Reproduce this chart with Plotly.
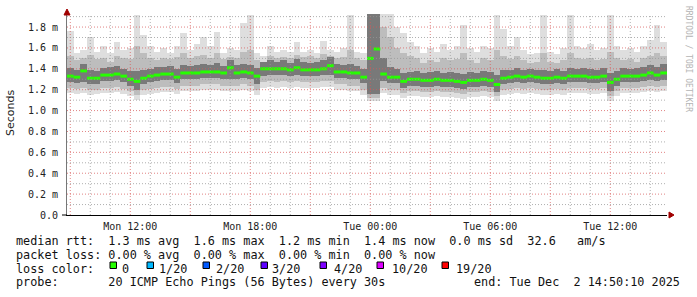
import pandas as pd
import plotly.graph_objects as go

# ---------------- data ----------------
START = "2025-12-01 08:50:10"
END = "2025-12-02 14:50:10"
STEP_MIN = 20

median = [1.33,1.32,1.38,1.31,1.31,1.34,1.34,1.35,1.33,1.30,
          1.28,1.31,1.33,1.34,1.35,1.35,1.32,1.36,1.36,1.36,
          1.37,1.37,1.37,1.36,1.41,1.36,1.37,1.36,1.33,1.40,
          1.40,1.40,1.40,1.39,1.41,1.39,1.39,1.39,1.40,1.43,
          1.37,1.37,1.36,1.36,1.32,1.50,1.59,1.35,1.32,1.32,
          1.28,1.30,1.30,1.29,1.29,1.30,1.29,1.29,1.28,1.27,
          1.29,1.29,1.30,1.29,1.25,1.31,1.32,1.33,1.32,1.33,
          1.32,1.31,1.31,1.32,1.31,1.33,1.33,1.33,1.32,1.32,
          1.33,1.27,1.30,1.33,1.33,1.33,1.34,1.36,1.34,1.36]

smoke_max = [1.76,1.55,1.58,1.70,1.56,1.62,1.55,1.66,1.58,1.60,
             1.92,1.72,1.62,1.56,1.60,1.55,1.62,1.74,1.58,1.64,
             1.70,1.62,1.75,1.55,1.60,1.58,1.84,1.92,1.55,1.52,
             1.62,1.56,1.58,1.56,1.66,1.56,1.58,1.55,1.67,1.58,
             1.56,1.60,1.92,1.56,1.55,1.95,1.95,1.95,1.95,1.80,
             1.74,1.66,1.62,1.55,1.60,1.56,1.64,1.58,1.62,1.82,
             1.60,1.56,1.62,1.60,1.92,1.78,1.62,1.70,1.58,1.54,
             1.55,1.92,1.56,1.54,1.60,1.92,1.62,1.60,1.64,1.58,
             1.60,1.92,1.62,1.58,1.60,1.56,1.62,1.68,1.82,1.66]

smoke_hi2 = [1.52,1.48,1.50,1.53,1.49,1.50,1.47,1.52,1.50,1.49,
             1.62,1.55,1.50,1.48,1.50,1.49,1.51,1.55,1.50,1.52,
             1.53,1.50,1.55,1.49,1.51,1.50,1.56,1.58,1.48,1.47,
             1.52,1.50,1.51,1.50,1.53,1.51,1.52,1.50,1.54,1.52,
             1.50,1.51,1.58,1.50,1.48,1.95,1.95,1.80,1.70,1.60,
             1.55,1.52,1.50,1.46,1.48,1.47,1.50,1.48,1.49,1.55,
             1.48,1.46,1.50,1.48,1.58,1.52,1.49,1.52,1.48,1.46,
             1.47,1.55,1.47,1.46,1.48,1.55,1.50,1.49,1.50,1.48,
             1.49,1.56,1.50,1.48,1.49,1.47,1.50,1.52,1.55,1.52]

smoke_hi1 = [1.41,1.39,1.45,1.39,1.38,1.41,1.42,1.43,1.40,1.38,
             1.38,1.39,1.40,1.42,1.42,1.43,1.40,1.44,1.43,1.44,
             1.45,1.44,1.46,1.43,1.48,1.44,1.45,1.44,1.41,1.47,
             1.48,1.47,1.48,1.46,1.49,1.47,1.46,1.47,1.48,1.51,
             1.45,1.44,1.45,1.43,1.40,1.95,1.95,1.50,1.42,1.40,
             1.36,1.37,1.38,1.36,1.37,1.38,1.36,1.37,1.36,1.35,
             1.37,1.36,1.38,1.37,1.34,1.39,1.39,1.41,1.39,1.40,
             1.39,1.39,1.38,1.40,1.38,1.41,1.40,1.41,1.40,1.39,
             1.41,1.36,1.38,1.41,1.40,1.41,1.42,1.44,1.42,1.45]

smoke_lo1 = [1.27,1.26,1.27,1.25,1.25,1.28,1.28,1.29,1.27,1.24,
             1.20,1.25,1.27,1.28,1.29,1.29,1.26,1.30,1.30,1.30,
             1.31,1.31,1.31,1.30,1.30,1.30,1.31,1.30,1.25,1.33,
             1.34,1.34,1.34,1.33,1.34,1.33,1.33,1.33,1.34,1.34,
             1.31,1.31,1.30,1.30,1.26,1.16,1.16,1.28,1.26,1.26,
             1.22,1.24,1.24,1.23,1.23,1.24,1.23,1.23,1.22,1.21,
             1.23,1.23,1.24,1.23,1.18,1.25,1.26,1.27,1.26,1.27,
             1.26,1.25,1.25,1.26,1.25,1.27,1.27,1.27,1.26,1.26,
             1.27,1.19,1.24,1.27,1.27,1.27,1.28,1.29,1.28,1.29]

smoke_lo2 = [1.22,1.21,1.22,1.20,1.20,1.22,1.22,1.23,1.21,1.19,
             1.15,1.20,1.21,1.22,1.23,1.23,1.21,1.24,1.24,1.24,
             1.25,1.25,1.25,1.24,1.24,1.24,1.25,1.24,1.20,1.27,
             1.28,1.27,1.28,1.27,1.28,1.27,1.27,1.27,1.28,1.28,
             1.25,1.25,1.24,1.24,1.20,1.12,1.12,1.22,1.20,1.20,
             1.17,1.19,1.19,1.18,1.18,1.19,1.18,1.18,1.17,1.16,
             1.18,1.18,1.19,1.18,1.14,1.20,1.21,1.22,1.21,1.22,
             1.21,1.20,1.20,1.21,1.20,1.22,1.22,1.22,1.21,1.21,
             1.22,1.14,1.19,1.22,1.22,1.22,1.23,1.24,1.23,1.24]

smoke_min = [1.17,1.16,1.17,1.15,1.16,1.17,1.17,1.18,1.16,1.14,
             1.10,1.15,1.16,1.17,1.18,1.18,1.16,1.19,1.19,1.19,
             1.20,1.20,1.20,1.19,1.19,1.19,1.20,1.19,1.15,1.22,
             1.23,1.22,1.23,1.22,1.23,1.22,1.22,1.22,1.23,1.23,
             1.20,1.20,1.19,1.19,1.15,1.09,1.09,1.17,1.15,1.15,
             1.12,1.14,1.14,1.13,1.13,1.14,1.13,1.13,1.12,1.11,
             1.13,1.13,1.14,1.13,1.09,1.15,1.16,1.17,1.16,1.17,
             1.16,1.15,1.15,1.16,1.15,1.17,1.17,1.17,1.16,1.16,
             1.17,1.09,1.14,1.17,1.17,1.17,1.18,1.19,1.18,1.19]

x_tick_times = ["2025-12-01 09:00", "2025-12-01 12:00", "2025-12-01 15:00",
                "2025-12-01 18:00", "2025-12-01 21:00", "2025-12-02 00:00",
                "2025-12-02 03:00", "2025-12-02 06:00", "2025-12-02 09:00",
                "2025-12-02 12:00"]
x_tick_text = ["", "Mon 12:00", "", "Mon 18:00", "", "Tue 00:00", "",
               "Tue 06:00", "", "Tue 12:00"]
y_tick_vals = [0.0, 0.2, 0.4, 0.6, 0.8, 1.0, 1.2, 1.4, 1.6, 1.8]
y_tick_text = ["0.0", "0.2 m", "0.4 m", "0.6 m", "0.8 m", "1.0 m",
               "1.2 m", "1.4 m", "1.6 m", "1.8 m"]
y_minor_vals = [0.1, 0.3, 0.5, 0.7, 0.9, 1.1, 1.3, 1.5, 1.7, 1.9]

loss_labels = ["0", "1/20", "2/20", "3/20", "4/20", "10/20", "19/20"]
loss_colors = ["#26ff00", "#00b8ff", "#0059ff", "#5e00ff", "#7e00ff",
               "#dd00ff", "#ff0000"]

stats_line1 = "median rtt:  1.3 ms avg  1.6 ms max  1.2 ms min  1.4 ms now  0.0 ms sd  32.6   am/s"
stats_line2 = "packet loss: 0.00 % avg  0.00 % max  0.00 % min  0.00 % now"
probe_text = "probe:       20 ICMP Echo Pings (56 Bytes) every 30s"
end_text = "end: Tue Dec  2 14:50:10 2025"

# ---------------- layout geometry ----------------
W, H = 697, 297
PL, PR, PT, PB = 67, 30, 14, 82
PW = W - PL - PR
PHh = H - PT - PB
YMAX = 1.925


def px(xp):
    return (xp - PL) / PW


def py(yp):
    return (H - PB - yp) / PHh


step = pd.Timedelta(minutes=STEP_MIN)
times = [pd.Timestamp(START) + i * step for i in range(len(median))]
width_ms = step.total_seconds() * 1000

fig = go.Figure()

layers = [
    (smoke_min, smoke_max, "rgba(0,0,0,0.13)"),
    (smoke_lo2, smoke_hi2, "rgba(0,0,0,0.15)"),
    (smoke_lo1, smoke_hi1, "rgba(0,0,0,0.36)"),
]
for lo, hi, col in layers:
    fig.add_trace(go.Bar(
        x=times, y=[h - l for l, h in zip(lo, hi)], base=lo,
        width=width_ms, offset=0, marker=dict(color=col, line=dict(width=0)),
        showlegend=False, hoverinfo="skip"))

# median as horizontal segments
seg_x, seg_y = [], []
for t, m in zip(times, median):
    seg_x += [t, t + step, None]
    seg_y += [m, m, None]
fig.add_trace(go.Scatter(x=seg_x, y=seg_y, mode="lines",
                         line=dict(color=loss_colors[0], width=3),
                         showlegend=False, hoverinfo="skip"))

mono = "DejaVu Sans Mono"

fig.update_layout(
    width=W, height=H,
    margin=dict(l=PL, r=PR, t=PT, b=PB),
    paper_bgcolor="white", plot_bgcolor="white",
    barmode="overlay", bargap=0,
    showlegend=False,
    xaxis=dict(
        type="date", range=[START, END],
        tickmode="array", tickvals=x_tick_times, ticktext=x_tick_text,
        tickfont=dict(family=mono, size=10, color="#222"),
        ticks="", ticklabelstandoff=2,
        showgrid=False,
        showline=True, linecolor="#000", linewidth=1,
        zeroline=False, fixedrange=True,
    ),
    yaxis=dict(
        range=[0, YMAX],
        tickmode="array", tickvals=y_tick_vals, ticktext=y_tick_text,
        tickfont=dict(family=mono, size=10, color="#222"),
        ticks="", ticklabelstandoff=6,
        showgrid=False,
        showline=True, linecolor="#777", linewidth=1,
        zeroline=False, fixedrange=True,
    ),
)

shapes = []
MAJOR = dict(color="rgba(215,90,90,0.75)", width=1, dash="1px,2px")
MINOR = dict(color="rgba(150,150,150,0.75)", width=1, dash="1px,2px")
# vertical grid: hourly minor, 3-hourly major
hours = pd.date_range("2025-12-01 09:00", "2025-12-02 14:00", freq="1h")
for hr in hours:
    major = (hr.hour % 3 == 0)
    shapes.append(dict(type="line", xref="x", yref="paper", x0=hr, x1=hr,
                       y0=0, y1=1, layer="above",
                       line=MAJOR if major else MINOR))
for v in y_tick_vals[1:]:
    shapes.append(dict(type="line", xref="paper", yref="y", x0=0, x1=1,
                       y0=v, y1=v, layer="above", line=MAJOR))
for v in y_minor_vals:
    shapes.append(dict(type="line", xref="paper", yref="y", x0=0, x1=1,
                       y0=v, y1=v, layer="above", line=MINOR))

annotations = []
annotations.append(dict(xref="paper", yref="paper", x=px(10), y=py(113),
                        text="Seconds", textangle=-90, showarrow=False,
                        font=dict(family="DejaVu Sans", size=11, color="#222"),
                        xanchor="center", yanchor="middle"))
annotations.append(dict(xref="paper", yref="paper", x=px(688), y=py(59),
                        text="RRDTOOL / TOBI OETIKER", textangle=90, showarrow=False,
                        font=dict(family=mono, size=8, color="#b4b4b4"),
                        xanchor="center", yanchor="middle"))

nb = lambda s: s.replace(" ", "\u00a0")
tf = dict(family=mono, size=11.8, color="#111")
for text, yy in [(stats_line1, 241), (stats_line2, 255), (probe_text, 282)]:
    annotations.append(dict(xref="paper", yref="paper", x=px(14), y=py(yy),
                            text=nb(text), showarrow=False, font=tf,
                            xanchor="left", yanchor="middle"))
annotations.append(dict(xref="paper", yref="paper", x=px(682), y=py(282),
                        text=nb(end_text), showarrow=False, font=tf,
                        xanchor="right", yanchor="middle"))
annotations.append(dict(xref="paper", yref="paper", x=px(14), y=py(268.5),
                        text=nb("loss color:"), showarrow=False, font=tf,
                        xanchor="left", yanchor="middle"))

box_x = [110, 147, 203, 261, 320, 377, 442]
label_x = [120, 157, 214, 270, 332, 390, 454]
for bx, lx, lab, col in zip(box_x, label_x, loss_labels, loss_colors):
    shapes.append(dict(type="rect", xref="paper", yref="paper",
                       x0=px(bx), x1=px(bx + 6.5), y0=py(268.5), y1=py(262),
                       fillcolor=col, line=dict(color="#000", width=1)))
    annotations.append(dict(xref="paper", yref="paper", x=px(lx), y=py(268.5),
                            text=nb(lab), showarrow=False, font=tf,
                            xanchor="left", yanchor="middle"))

# axis arrows
shapes.append(dict(type="path", xref="paper", yref="paper",
                   xsizemode="pixel", ysizemode="pixel",
                   xanchor=0, yanchor=1,
                   path="M -3 -1 L 3 -1 L 0 5 Z",
                   fillcolor="#a00000", line=dict(color="#a00000", width=1)))
shapes.append(dict(type="path", xref="paper", yref="paper",
                   xsizemode="pixel", ysizemode="pixel",
                   xanchor=1, yanchor=0,
                   path="M 2 -3 L 2 3 L 7 0 Z",
                   fillcolor="#a00000", line=dict(color="#a00000", width=1)))
shapes.append(dict(type="line", xref="paper", yref="paper",
                   x0=px(62), x1=px(67), y0=0, y1=0,
                   line=dict(color="#000", width=1)))

fig.update_layout(annotations=annotations, shapes=shapes)

fig.write_html("out.html")
